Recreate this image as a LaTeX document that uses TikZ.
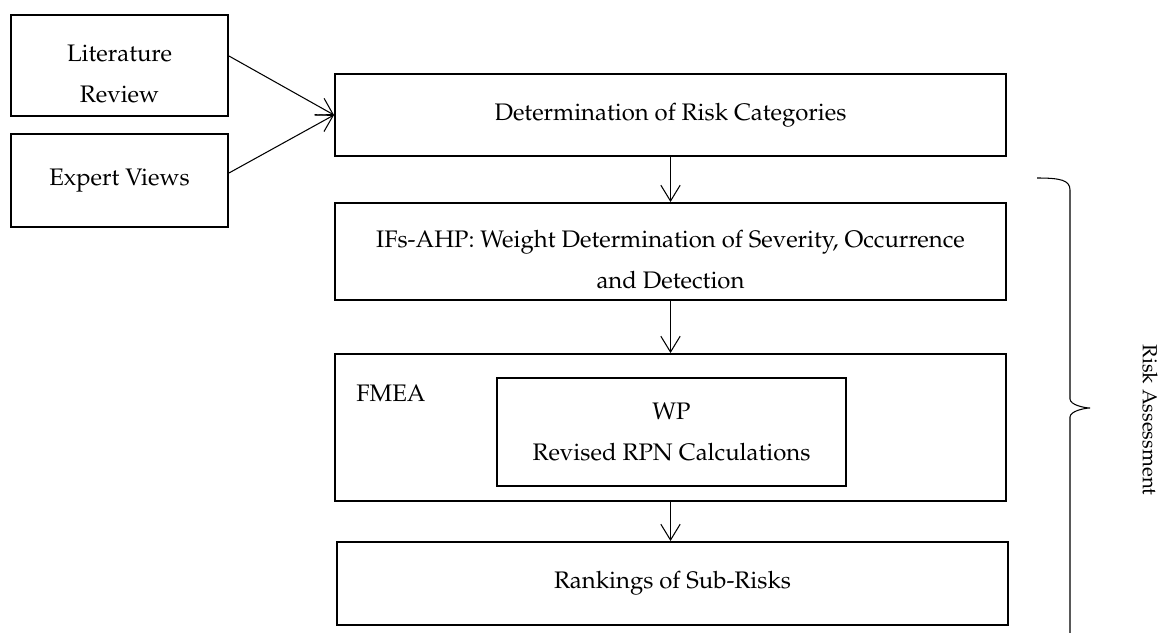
\documentclass[tikz,border=0pt]{standalone}
\usepackage[T1]{fontenc}
\usepackage{mathpazo}
\usetikzlibrary{shapes,backgrounds}
\usetikzlibrary{arrows.meta}
\newcommand{\lowstrut}{\rule{0pt}{19pt}}

\begin{document}
\begin{tikzpicture}[
  font=\fontsize{13.6}{23.8}\selectfont,
  stagebox/.style={draw, line width=1.1pt, align=center, inner sep=0pt},
  flow/.style={line width=0.6pt, -{Straight Barb[length=9pt,width=11pt]}}]
\useasboundingbox (0,0) rectangle (23.24,-12.64);
% input boxes on the left
\node[stagebox, minimum width=4.34cm, minimum height=2.02cm] (lit) at (2.39,-1.31) {\lowstrut Literature\\Review};
\node[stagebox, minimum width=4.34cm, minimum height=1.86cm] (exp) at (2.39,-3.61) {Expert Views};
% main column
\node[stagebox, minimum width=13.42cm, minimum height=1.64cm] (det) at (13.41,-2.30) {Determination of Risk Categories};
\node[stagebox, minimum width=13.42cm, minimum height=1.94cm] (ifs) at (13.41,-5.03) {\lowstrut IFs-AHP: Weight Determination of Severity, Occurrence\\and Detection};
\node[stagebox, minimum width=13.42cm, minimum height=2.94cm] (fmea) at (13.41,-8.55) {};
\node (fmealabel) at (7.82,-7.86) {FMEA};
\node[stagebox, minimum width=6.98cm, minimum height=2.16cm] (wp) at (13.43,-8.64) {WP\\Revised RPN Calculations};
\node[stagebox, minimum width=13.42cm, minimum height=1.66cm] (rank) at (13.45,-11.67) {Rankings of Sub-Risks};
% connectors
\draw[flow] ([yshift=0.19cm]lit.east) -- (det.west);
\draw[flow] ([yshift=0.15cm]exp.east) -- (det.west);
\draw[flow] (det) -- (ifs);
\draw[flow] (ifs) -- (fmea);
\draw[flow] (fmea.south) -- (fmea.south |- rank.north);
% brace on the right
\draw[line width=0.6pt] (20.74,-3.56) .. controls (21.2,-3.56) and (21.4,-3.6) .. (21.4,-3.8) -- (21.4,-7.98)
  .. controls (21.4,-8.1) and (21.7,-8.16) .. (21.8,-8.16)
  .. controls (21.7,-8.16) and (21.4,-8.22) .. (21.4,-8.34) -- (21.4,-12.7);
\node[rotate=-90, font=\fontsize{11.6}{14}\selectfont] (riskass) at (23.0,-8.4) {Risk Assessment};
\end{tikzpicture}
\end{document}
